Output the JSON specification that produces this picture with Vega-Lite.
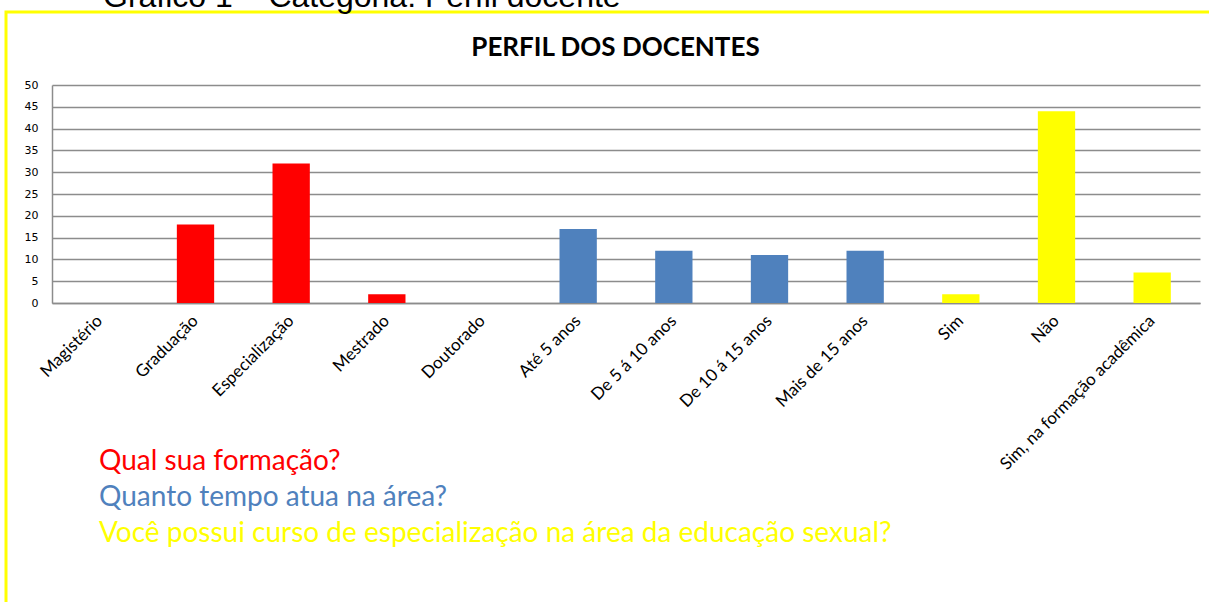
{
  "$schema": "https://vega.github.io/schema/vega-lite/v6.json",
  "width": 1207,
  "height": 594,
  "autosize": {"type": "none"},
  "padding": {"left": 6, "top": 12, "right": -4, "bottom": -4},
  "background": "white",
  "title": {
    "text": "Gráfico 1 – Categoria: Perfil docente",
    "font": "Liberation Sans",
    "fontSize": 32,
    "fontWeight": "normal",
    "color": "black",
    "anchor": "start",
    "frame": "group",
    "dx": 97,
    "dy": 31,
    "offset": 4,
    "baseline": "alphabetic"
  },
  "data": {
    "values": [
      {"categoria": "Magistério", "valor": 0, "grupo": "Qual sua formação?"},
      {"categoria": "Graduação", "valor": 18, "grupo": "Qual sua formação?"},
      {"categoria": "Especialização", "valor": 32, "grupo": "Qual sua formação?"},
      {"categoria": "Mestrado", "valor": 2, "grupo": "Qual sua formação?"},
      {"categoria": "Doutorado", "valor": 0, "grupo": "Qual sua formação?"},
      {"categoria": "Até 5 anos", "valor": 17, "grupo": "Quanto tempo atua na área?"},
      {"categoria": "De 5 á 10 anos", "valor": 12, "grupo": "Quanto tempo atua na área?"},
      {"categoria": "De 10 á 15 anos", "valor": 11, "grupo": "Quanto tempo atua na área?"},
      {"categoria": "Mais de 15 anos", "valor": 12, "grupo": "Quanto tempo atua na área?"},
      {"categoria": "Sim", "valor": 2, "grupo": "Você possui curso de especialização na área da educação sexual?"},
      {"categoria": "Não", "valor": 44, "grupo": "Você possui curso de especialização na área da educação sexual?"},
      {"categoria": "Sim, na formação acadêmica", "valor": 7, "grupo": "Você possui curso de especialização na área da educação sexual?"}
    ]
  },
  "mark": {"type": "bar"},
  "encoding": {
    "x": {
      "field": "categoria",
      "type": "nominal",
      "sort": null,
      "scale": {"type": "band", "range": [46, 1194], "paddingInner": 0.61, "paddingOuter": 0.305},
      "axis": {
        "orient": "bottom",
        "offset": -303,
        "title": null,
        "labelAngle": -45,
        "labelAlign": "right",
        "labelBaseline": "middle",
        "labelFont": "Lato",
        "labelFontSize": 17,
        "labelColor": "black",
        "labelPadding": 15,
        "ticks": false,
        "domain": true,
        "domainColor": "#8c8c8c",
        "domainWidth": 1.5,
        "grid": false,
        "labelLimit": 0
      }
    },
    "y": {
      "field": "valor",
      "type": "quantitative",
      "scale": {"domain": [0, 50], "range": [291, 73], "nice": false},
      "axis": {
        "orient": "left",
        "offset": -46,
        "values": [0, 5, 10, 15, 20, 25, 30, 35, 40, 45, 50],
        "ticks": false,
        "labelPadding": 14,
        "labelFont": "DejaVu Sans",
        "labelFontSize": 11,
        "labelColor": "black",
        "domain": true,
        "domainColor": "#8c8c8c",
        "domainWidth": 1.5,
        "grid": true,
        "gridColor": "#8c8c8c",
        "gridWidth": 1.5,
        "title": "PERFIL DOS DOCENTES",
        "titleAngle": 0,
        "titleX": 563,
        "titleY": 35,
        "titleAlign": "center",
        "titleBaseline": "middle",
        "titleFont": "Lato",
        "titleFontSize": 26,
        "titleFontWeight": "bold",
        "titleColor": "black"
      }
    },
    "color": {
      "field": "grupo",
      "type": "nominal",
      "scale": {
        "domain": ["Qual sua formação?", "Quanto tempo atua na área?", "Você possui curso de especialização na área da educação sexual?"],
        "range": ["#FF0000", "#4F81BD", "#FFFF00"]
      },
      "legend": {
        "orient": "none",
        "legendX": 65,
        "legendY": 436,
        "title": null,
        "symbolSize": 0,
        "symbolOpacity": 0,
        "symbolStrokeWidth": 0,
        "labelOffset": 0,
        "labelFont": "Lato",
        "labelFontSize": 28,
        "labelLimit": 0,
        "rowPadding": 8,
        "encode": {
          "labels": {"update": {"fill": {"scale": "color", "field": "value"}}}
        }
      }
    }
  },
  "config": {
    "view": {"stroke": "#FFFF00", "strokeWidth": 3}
  }
}
